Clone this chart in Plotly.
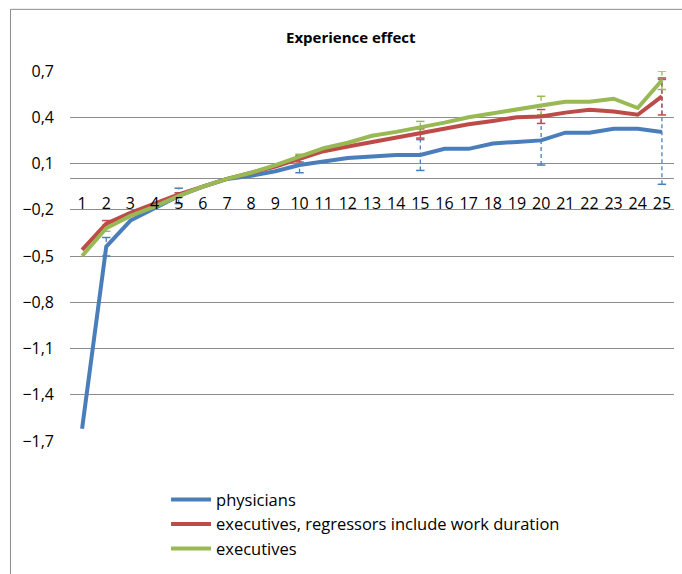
import numpy as np
import plotly.graph_objects as go

years = list(range(1, 26))
physicians = [-1.62, -0.44, -0.27, -0.19, -0.11, -0.05, 0.0, 0.02, 0.05, 0.09,
              0.11, 0.135, 0.145, 0.155, 0.155, 0.195, 0.195, 0.23, 0.24, 0.25,
              0.30, 0.30, 0.325, 0.325, 0.305]
exec_dur = [-0.46, -0.29, -0.22, -0.16, -0.10, -0.05, 0.0, 0.04, 0.08, 0.13,
            0.18, 0.21, 0.24, 0.27, 0.295, 0.327, 0.354, 0.376, 0.40, 0.405,
            0.43, 0.448, 0.437, 0.416, 0.535]
executives = [-0.50, -0.32, -0.24, -0.18, -0.11, -0.05, 0.0, 0.04, 0.09, 0.145,
              0.20, 0.235, 0.28, 0.305, 0.333, 0.365, 0.40, 0.427, 0.455, 0.476,
              0.50, 0.50, 0.52, 0.46, 0.64]

# error bars only shown every few years
err_years = [2, 5, 10, 15, 20, 25]
physicians_err = [0.06, 0.05, 0.05, 0.10, 0.16, 0.34]
exec_dur_err = [0.02, 0.01, 0.02, 0.03, 0.045, 0.12]
executives_err = [0.02, 0.01, 0.015, 0.04, 0.06, 0.06]

names = ["physicians", "executives, regressors include work duration", "executives"]
colors = ["#4a7ebb", "#be4b48", "#98b954"]
series = [physicians, exec_dur, executives]
errors = [physicians_err, exec_dur_err, executives_err]

FONT = "'Open Sans', Lato, sans-serif"
y_lo, y_hi = -1.7, 0.7

fig = go.Figure()

# dashed error bars with caps, drawn under the lines
for vals, errs, col in zip(series, errors, colors):
    ex, ey, cx, cy = [], [], [], []
    for yr, e in zip(err_years, errs):
        v = vals[yr - 1]
        ex += [yr, yr, None]
        ey += [v - e, v + e, None]
        cx += [yr, yr]
        cy += [v - e, v + e]
    fig.add_trace(go.Scatter(x=ex, y=ey, mode="lines", showlegend=False,
                             line=dict(color=col, width=1.3, dash="4px,3px"),
                             hoverinfo="skip"))
    fig.add_trace(go.Scatter(x=cx, y=cy, mode="markers", showlegend=False,
                             marker=dict(symbol="line-ew-open", size=6, color=col,
                                         line=dict(color=col, width=1.5)),
                             hoverinfo="skip"))

for i, (vals, nm, col) in enumerate(zip(series, names, colors)):
    fig.add_trace(go.Scatter(x=years, y=vals, mode="lines", name=nm,
                             legendgroup=str(i),
                             line=dict(color=col, width=4)))

zero_pos = (0 - y_lo) / (y_hi - y_lo)

fig.update_layout(
    width=682, height=574,
    margin=dict(l=70, r=8, t=71, b=128),
    paper_bgcolor="white", plot_bgcolor="white",
    separators=",.",
    font=dict(family=FONT, size=16, color="#000000"),
    showlegend=True,
    legend=dict(x=0.159, y=-(128 - 1) / 375, xanchor="left", yanchor="bottom",
                font=dict(size=16.5), tracegroupgap=0,
                itemwidth=40, bgcolor="rgba(0,0,0,0)"),
    annotations=[dict(text="<b>Experience effect</b>", x=(351 - 70) / 604,
                      y=(446 - 37) / 375, xref="paper", yref="paper",
                      xanchor="center", yanchor="middle",
                      showarrow=False, font=dict(size=15))],
    shapes=[
        dict(type="line", xref="paper", yref="paper",
             x0=(10.5 - 70) / 604, x1=(10.5 - 70) / 604,
             y0=-0.5, y1=(446 - 8.5) / 375,
             line=dict(color="#8c8c8c", width=1)),
        dict(type="line", xref="paper", yref="paper",
             x0=(10.5 - 70) / 604, x1=1.1,
             y0=(446 - 8.5) / 375, y1=(446 - 8.5) / 375,
             line=dict(color="#8c8c8c", width=1)),
    ],
)

fig.update_xaxes(range=[0.5, 25.5], tickmode="array", tickvals=years,
                 ticktext=[str(y) for y in years], showgrid=False,
                 showline=False, zeroline=False, anchor="free",
                 position=zero_pos, ticks="", ticklabelstandoff=13,
                 automargin=False)
fig.update_yaxes(range=[y_lo, y_hi], tick0=y_lo, dtick=0.3, tickformat=".1f",
                 showgrid=True, gridcolor="#8c8c8c", gridwidth=1,
                 zeroline=True, zerolinecolor="#8c8c8c", zerolinewidth=1,
                 showline=False, ticks="", ticklabelstandoff=15,
                 automargin=False)

# page body has a default 8px margin; remove it so the chart sits at 0,0
fig.write_html("out.html", config={"displayModeBar": False},
               post_script="document.body.style.margin='0';")
